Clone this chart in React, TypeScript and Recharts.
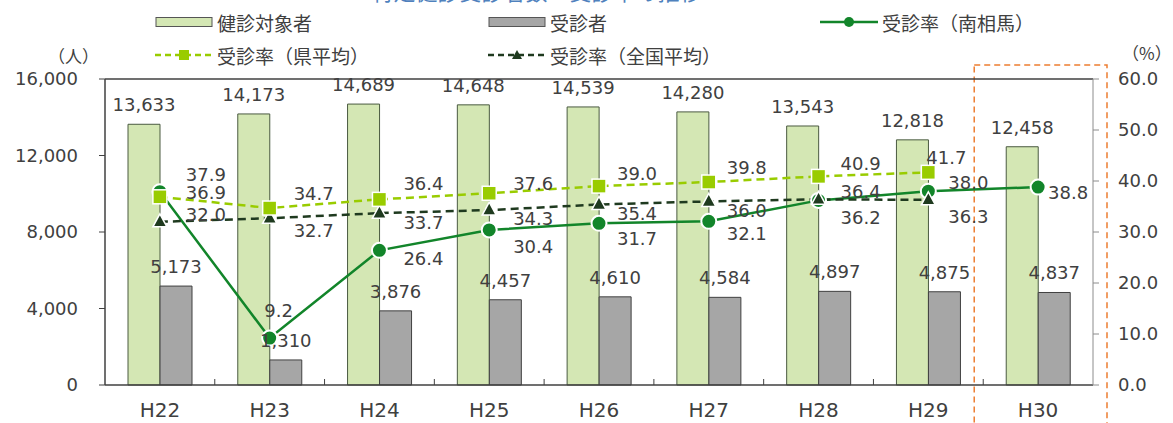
import React from 'react';
import { ComposedChart, Bar, Line, XAxis, YAxis, LabelList, ReferenceArea, ReferenceLine } from 'recharts';

const years = ['H22', 'H23', 'H24', 'H25', 'H26', 'H27', 'H28', 'H29', 'H30'];
const targets = [13633, 14173, 14689, 14648, 14539, 14280, 13543, 12818, 12458];
const examinees = [5173, 1310, 3876, 4457, 4610, 4584, 4897, 4875, 4837];
const rateCity = [37.9, 9.2, 26.4, 30.4, 31.7, 32.1, 36.2, 38.0, 38.8];
const ratePref = [36.9, 34.7, 36.4, 37.6, 39.0, 39.8, 40.9, 41.7, null];
const rateNation = [32.0, 32.7, 33.7, 34.3, 35.4, 36.0, 36.4, 36.3, null];

const leftTicks = [0, 4000, 8000, 12000, 16000];
const rightTicks = [0, 10, 20, 30, 40, 50, 60];

// where each rate label sits relative to its marker [dx, dy]
const cityLabelPos = [[46, -17], [9, -28], [44, 8], [44, 17], [38, 15], [38, 12], [42, 17], [40, -9], [30, 5]];
const prefLabelPos = [[46, -4], [44, -15], [44, -16], [44, -10], [38, -13], [38, -15], [42, -13], [18, -15]];
const nationLabelPos = [[46, -7], [44, 12], [44, 9], [44, 8], [38, 9], [38, 9], [42, -8], [40, 17]];

const data = years.map((year, i) => ({
  year,
  target: targets[i],
  examinee: examinees[i],
  city: rateCity[i],
  pref: ratePref[i],
  nation: rateNation[i],
}));

const W = 1173;
const H = 423;
const MARGIN = { top: 79, right: 20, bottom: 0, left: 45 };
const AXIS_W = 60;
const PLOT_W = W - MARGIN.left - MARGIN.right - AXIS_W * 2;
const HALF_BAND = PLOT_W / years.length / 2;

const FONT = "'DejaVu Sans', 'Noto Sans CJK JP', sans-serif";
const JP_FONT = "'Noto Sans CJK JP', sans-serif";
const TEXT = '#404040';

const GREEN_BAR = '#d4e7b4';
const GRAY_BAR = '#a6a6a6';
const CITY = '#12852a';
const PREF = '#99cc00';
const NATION = '#1f3a1f';

const XTick = (props: any) => {
  const { x, y, payload, index } = props;
  return (
    <g>
      {index < years.length - 1 && (
        <line x1={x + HALF_BAND} x2={x + HALF_BAND} y1={y} y2={y - 6} stroke={TEXT} />
      )}
      <text x={x} y={y + 25} textAnchor="middle" dominantBaseline="central" fontSize={20} fill={TEXT} fontFamily={FONT}>
        {payload.value}
      </text>
    </g>
  );
};

const makeLineLabel = (pos: number[][]) => (props: any) => {
  const x = props.x ?? props.viewBox?.x;
  const y = props.y ?? props.viewBox?.y;
  const { value, index } = props;
  if (value == null || x == null || y == null) return null;
  const [dx, dy] = pos[index] || [40, 0];
  return (
    <text x={x + dx} y={y + dy} textAnchor="middle" dominantBaseline="central" fontSize={18} fill={TEXT} fontFamily={FONT}>
      {Number(value).toFixed(1)}
    </text>
  );
};

const CityDot = (props: any) => {
  const { cx, cy, index } = props;
  if (cx == null || cy == null) return <g key={`c${index}`} />;
  return <circle key={`c${index}`} cx={cx} cy={cy} r={7.5} fill={CITY} stroke="#fff" strokeWidth={2} />;
};

const PrefDot = (props: any) => {
  const { cx, cy, index } = props;
  if (cx == null || cy == null) return <g key={`p${index}`} />;
  return <rect key={`p${index}`} x={cx - 7} y={cy - 7} width={14} height={14} fill={PREF} stroke="#fff" strokeWidth={1.5} />;
};

const NationDot = (props: any) => {
  const { cx, cy, index } = props;
  if (cx == null || cy == null) return <g key={`n${index}`} />;
  return (
    <polygon
      key={`n${index}`}
      points={`${cx},${cy - 8} ${cx + 7},${cy + 5} ${cx - 7},${cy + 5}`}
      fill={NATION}
      stroke="#fff"
      strokeWidth={1.5}
    />
  );
};

const H30Box = (props: any) => {
  const { x, y, width, height } = props;
  return (
    <rect
      x={x - 9}
      y={y - 14}
      width={width + 23}
      height={height + 60}
      fill="none"
      stroke="#ed7d31"
      strokeWidth={1.5}
      strokeDasharray="6 4"
    />
  );
};

const LegendIcon = ({ kind }: { kind: string }) => (
  <svg width={58} height={16} style={{ display: 'block' }}>
    {kind === 'target' && <rect x={1} y={3.5} width={56} height={9} fill={GREEN_BAR} stroke="#555" />}
    {kind === 'examinee' && <rect x={1} y={3.5} width={56} height={9} fill={GRAY_BAR} stroke="#555" />}
    {kind === 'city' && (
      <g>
        <line x1={0} x2={58} y1={8} y2={8} stroke={CITY} strokeWidth={2.5} />
        <circle cx={29} cy={8} r={5} fill={CITY} />
      </g>
    )}
    {kind === 'pref' && (
      <g>
        <line x1={0} x2={58} y1={8} y2={8} stroke={PREF} strokeWidth={2.5} strokeDasharray="6 4" />
        <rect x={24} y={3} width={10} height={10} fill={PREF} />
      </g>
    )}
    {kind === 'nation' && (
      <g>
        <line x1={0} x2={58} y1={8} y2={8} stroke={NATION} strokeWidth={2.5} strokeDasharray="6 4" />
        <polygon points="29,3 34,12 24,12" fill={NATION} />
      </g>
    )}
  </svg>
);

const legendItems = [
  { kind: 'target', label: '健診対象者', left: 155, top: 22 },
  { kind: 'examinee', label: '受診者', left: 488, top: 22 },
  { kind: 'city', label: '受診率（南相馬）', left: 820, top: 22 },
  { kind: 'pref', label: '受診率（県平均）', left: 155, top: 55 },
  { kind: 'nation', label: '受診率（全国平均）', left: 488, top: 55 },
];

const App = () => {
  return (
    <div style={{ position: 'absolute', left: 0, top: 0, width: W, height: H, background: '#fff', overflow: 'hidden' }}>
      <div
        style={{
          position: 'absolute',
          left: 0,
          width: W,
          top: -26,
          textAlign: 'center',
          fontFamily: JP_FONT,
          fontSize: 22,
          color: '#4f81bd',
          paddingRight: 100,
          boxSizing: 'border-box',
        }}
      >
        特定健診受診者数・受診率の推移
      </div>
      {legendItems.map((item) => (
        <div
          key={item.kind}
          style={{
            position: 'absolute',
            left: item.left,
            top: item.top - 13,
            height: 26,
            display: 'flex',
            alignItems: 'center',
            gap: 4,
            fontFamily: JP_FONT,
            fontSize: 19,
            color: TEXT,
            whiteSpace: 'nowrap',
          }}
        >
          <LegendIcon kind={item.kind} />
          <span>{item.label}</span>
        </div>
      ))}
      <div style={{ position: 'absolute', left: 48, top: 43, fontFamily: JP_FONT, fontSize: 17, color: TEXT }}>（人）</div>
      <div style={{ position: 'absolute', left: 1122, top: 40, fontFamily: JP_FONT, fontSize: 17, color: TEXT }}>（%）</div>
      <div style={{ position: 'absolute', left: 0, top: 0 }}>
        <ComposedChart width={W} height={H} data={data} margin={MARGIN} barGap={0}>
          <XAxis
            xAxisId="main"
            dataKey="year"
            height={38}
            tickSize={0}
            tickMargin={0}
            tickLine={false}
            tick={XTick}
            axisLine={{ stroke: TEXT, strokeWidth: 1.5 }}
            interval={0}
          />
          <YAxis
            yAxisId="left"
            width={AXIS_W}
            domain={[0, 16000]}
            ticks={leftTicks}
            tickFormatter={(v: number) => v.toLocaleString('en-US')}
            tickSize={6}
            tickMargin={21}
            tick={{ fontSize: 18, fill: TEXT, fontFamily: FONT }}
            axisLine={{ stroke: TEXT, strokeWidth: 1.5 }}
            tickLine={{ stroke: TEXT }}
          />
          <YAxis
            yAxisId="right"
            orientation="right"
            width={AXIS_W}
            domain={[0, 60]}
            ticks={rightTicks}
            tickFormatter={(v: number) => v.toFixed(1)}
            tickSize={6}
            tickMargin={19}
            tick={{ fontSize: 18, fill: TEXT, fontFamily: FONT, textAnchor: 'start' }}
            axisLine={{ stroke: '#8c8c8c' }}
            tickLine={{ stroke: '#8c8c8c' }}
          />
          <ReferenceLine xAxisId="main" yAxisId="left" y={16000} stroke={TEXT} strokeWidth={1.5} />
          <Bar xAxisId="main" yAxisId="left" dataKey="target" barSize={32} fill={GREEN_BAR} stroke="#4a5a40" strokeWidth={1} isAnimationActive={false}>
            <LabelList
              dataKey="target"
              position="top"
              offset={13}
              formatter={(v: any) => Number(v).toLocaleString('en-US')}
              style={{ fontSize: 18, fill: TEXT, fontFamily: FONT }}
            />
          </Bar>
          <Bar xAxisId="main" yAxisId="left" dataKey="examinee" barSize={32} fill={GRAY_BAR} stroke="#404040" strokeWidth={1} isAnimationActive={false}>
            <LabelList
              dataKey="examinee"
              position="top"
              offset={13}
              formatter={(v: any) => Number(v).toLocaleString('en-US')}
              style={{ fontSize: 18, fill: TEXT, fontFamily: FONT }}
            />
          </Bar>
          <Line xAxisId="main" yAxisId="right" dataKey="city" stroke={CITY} strokeWidth={2.5} dot={CityDot} activeDot={false} isAnimationActive={false}>
            <LabelList dataKey="city" content={makeLineLabel(cityLabelPos)} />
          </Line>
          <Line xAxisId="main" yAxisId="right" dataKey="nation" stroke={NATION} strokeWidth={2.5} strokeDasharray="8 5" dot={NationDot} activeDot={false} isAnimationActive={false}>
            <LabelList dataKey="nation" content={makeLineLabel(nationLabelPos)} />
          </Line>
          <Line xAxisId="main" yAxisId="right" dataKey="pref" stroke={PREF} strokeWidth={2.5} strokeDasharray="8 5" dot={PrefDot} activeDot={false} isAnimationActive={false}>
            <LabelList dataKey="pref" content={makeLineLabel(prefLabelPos)} />
          </Line>
          <ReferenceArea xAxisId="main" yAxisId="left" x1="H30" x2="H30" ifOverflow="visible" shape={H30Box} />
        </ComposedChart>
      </div>
    </div>
  );
};

export default App;
